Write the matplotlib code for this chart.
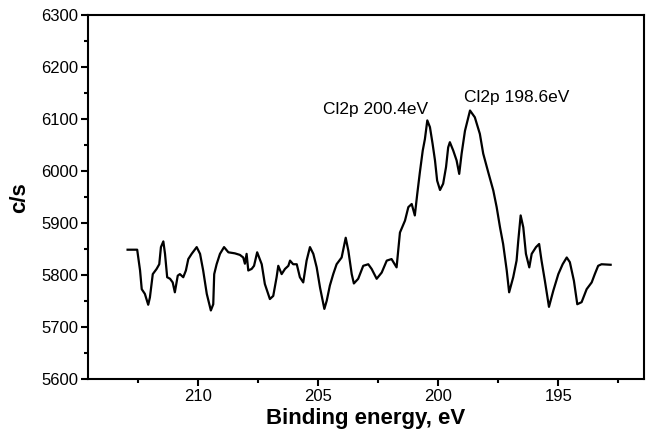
import matplotlib
matplotlib.use("Agg")
import matplotlib.pyplot as plt
from matplotlib.ticker import MultipleLocator

# XPS Cl2p region
binding_energy = [
    212.95, 212.55, 212.43, 212.36, 212.23, 212.09, 212.02, 211.90, 211.74, 211.63,
    211.56, 211.46, 211.39, 211.30, 211.18, 211.07, 210.98, 210.86, 210.77, 210.63,
    210.52, 210.42, 210.28, 210.07, 209.93, 209.80, 209.65, 209.48, 209.38, 209.34,
    209.24, 209.10, 208.93, 208.75, 208.48, 208.27, 208.13, 208.06, 207.99, 207.92,
    207.78, 207.68, 207.55, 207.36, 207.23, 207.02, 206.88, 206.74, 206.67, 206.53,
    206.39, 206.25, 206.18, 206.05, 205.90, 205.77, 205.63, 205.49, 205.35, 205.21,
    205.07, 204.93, 204.75, 204.65, 204.52, 204.38, 204.24, 204.03, 203.86, 203.75,
    203.61, 203.52, 203.34, 203.13, 202.92, 202.78, 202.57, 202.36, 202.15, 201.95,
    201.74, 201.60, 201.39, 201.25, 201.11, 200.98, 200.88, 200.77, 200.65, 200.56,
    200.46, 200.35, 200.24, 200.14, 200.05, 199.93, 199.80, 199.68, 199.59, 199.52,
    199.38, 199.24, 199.13, 199.03, 198.89, 198.68, 198.48, 198.27, 198.13, 197.92,
    197.71, 197.57, 197.43, 197.30, 197.15, 197.05, 196.88, 196.74, 196.67, 196.57,
    196.46, 196.35, 196.21, 196.11, 195.93, 195.80, 195.70, 195.56, 195.39, 195.21,
    195.00, 194.82, 194.65, 194.52, 194.35, 194.21, 194.03, 193.82, 193.61, 193.48,
    193.34, 193.20, 192.82,
]
counts = [
    5849, 5849, 5809, 5773, 5764, 5743, 5757, 5802, 5812, 5821,
    5854, 5865, 5841, 5796, 5793, 5786, 5767, 5799, 5802, 5796,
    5809, 5831, 5841, 5854, 5841, 5809, 5764, 5732, 5744, 5802,
    5821, 5841, 5854, 5844, 5842, 5839, 5834, 5822, 5841, 5809,
    5812, 5818, 5844, 5821, 5783, 5754, 5760, 5796, 5818, 5802,
    5812, 5818, 5828, 5821, 5821, 5796, 5786, 5828, 5854, 5841,
    5815, 5776, 5735, 5751, 5780, 5802, 5821, 5834, 5872, 5847,
    5802, 5784, 5793, 5818, 5821, 5812, 5793, 5805, 5828, 5831,
    5815, 5882, 5905, 5931, 5937, 5915, 5956, 5998, 6040, 6062,
    6098, 6085, 6053, 6021, 5982, 5964, 5976, 6008, 6046, 6056,
    6040, 6021, 5995, 6034, 6078, 6117, 6104, 6072, 6034, 5998,
    5963, 5931, 5892, 5860, 5809, 5767, 5796, 5828, 5866, 5915,
    5892, 5841, 5815, 5841, 5854, 5860, 5828, 5789, 5739, 5770,
    5802, 5821, 5834, 5825, 5789, 5744, 5748, 5773, 5786, 5802,
    5818, 5821, 5820,
]

peak_labels = ["Cl2p 200.4eV", "Cl2p 198.6eV"]
peak_label_x = [202.60, 196.74]
peak_label_y = [6110, 6133]

plt.rcParams["font.family"] = ["Liberation Sans", "DejaVu Sans"]

fig = plt.figure(figsize=(6.46, 4.40), dpi=100)
ax = fig.add_axes([0.1362, 0.1386, 0.8607, 0.8262])

ax.plot(binding_energy, counts, color="black", lw=1.6)

for lbl, lx, ly in zip(peak_labels, peak_label_x, peak_label_y):
    ax.text(lx, ly, lbl, ha="center", va="baseline", fontsize=12.5)

ax.set_xlim(214.6, 191.43)
ax.set_ylim(5600, 6300)
ax.xaxis.set_major_locator(MultipleLocator(5))
ax.xaxis.set_minor_locator(MultipleLocator(2.5))
ax.yaxis.set_major_locator(MultipleLocator(100))
ax.yaxis.set_minor_locator(MultipleLocator(50))

for s in ax.spines.values():
    s.set_linewidth(1.5)

ax.tick_params(which="major", direction="out", length=5, width=1.5,
               labelsize=12, pad=2)
ax.tick_params(which="minor", direction="out", length=3, width=1.5)

ax.set_xlabel("Binding energy, eV", fontsize=16, fontweight="bold", labelpad=3)
ax.set_ylabel("c/s", fontsize=16, fontweight="bold", labelpad=8)

fig.savefig("out.png", dpi=100)
